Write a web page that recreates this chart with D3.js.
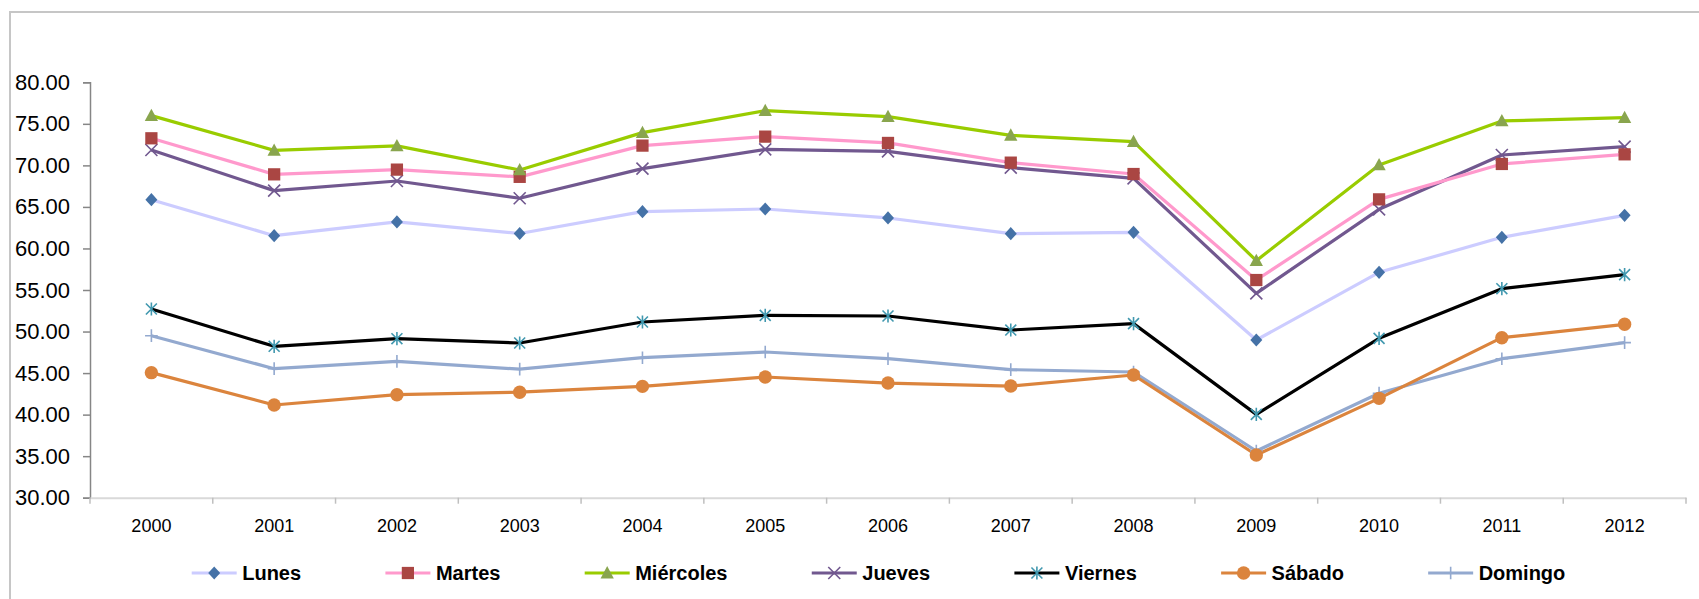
<!DOCTYPE html>
<html>
<head>
<meta charset="utf-8">
<script src="https://cdn.jsdelivr.net/npm/d3@7"></script>
<style>
  html, body { margin: 0; padding: 0; background: #fff; }
  svg { display: block; font-family: "Liberation Sans", Arial, sans-serif; }
</style>
</head>
<body>
<svg id="chart" width="1699" height="599"></svg>
<script>
// ---- data ----
const years = ["2000","2001","2002","2003","2004","2005","2006","2007","2008","2009","2010","2011","2012"];
const yTicks = [30, 35, 40, 45, 50, 55, 60, 65, 70, 75, 80];
const seriesNames = ["Lunes","Martes","Miércoles","Jueves","Viernes","Sábado","Domingo"];
const lunes     = [65.87, 61.54, 63.19, 61.80, 64.43, 64.75, 63.67, 61.78, 61.94, 48.98, 57.13, 61.34, 63.99];
const martes    = [73.26, 68.92, 69.49, 68.62, 72.38, 73.46, 72.70, 70.33, 68.96, 56.20, 65.91, 70.17, 71.33];
const miercoles = [75.99, 71.81, 72.34, 69.45, 73.94, 76.59, 75.87, 73.62, 72.86, 58.53, 70.05, 75.35, 75.75];
const jueves    = [71.85, 66.96, 68.12, 66.04, 69.61, 71.93, 71.69, 69.73, 68.44, 54.60, 64.71, 71.25, 72.26];
const viernes   = [52.71, 48.22, 49.14, 48.62, 51.15, 51.95, 51.87, 50.18, 50.95, 40.03, 49.18, 55.16, 56.85];
const sabado    = [45.05, 41.16, 42.40, 42.70, 43.40, 44.53, 43.80, 43.44, 44.77, 35.14, 41.96, 49.26, 50.87];
const domingo   = [49.50, 45.53, 46.41, 45.47, 46.85, 47.54, 46.73, 45.41, 45.13, 35.62, 42.58, 46.73, 48.66];
const seriesValues = [lunes, martes, miercoles, jueves, viernes, sabado, domingo];

// ---- styles ----
const lineColors   = ["#CCCCFF", "#FF99CC", "#99CC00", "#71588F", "#000000", "#DB843D", "#93A9CF"];
const markerColors = ["#4572A7", "#AA4643", "#89A54E", "#71588F", "#4198AF", "#DB843D", "#93A9CF"];

const diamondSym = { draw(ctx, size) { const r = Math.sqrt(size) / 2; ctx.moveTo(0, -r * 1.1); ctx.lineTo(r, 0); ctx.lineTo(0, r * 1.1); ctx.lineTo(-r, 0); ctx.closePath(); } };
const squareSym = { draw(ctx, size) { const r = Math.sqrt(size) / 2; ctx.rect(-r, -r, 2 * r, 2 * r); } };
const triSym = { draw(ctx, size) { const r = Math.sqrt(size) / 2; ctx.moveTo(0, -r * 1.1); ctx.lineTo(r * 1.05, r * 0.85); ctx.lineTo(-r * 1.05, r * 0.85); ctx.closePath(); } };
const xSym = { draw(ctx, size) { const r = Math.sqrt(size) / 2; ctx.moveTo(-r, -r); ctx.lineTo(r, r); ctx.moveTo(r, -r); ctx.lineTo(-r, r); } };
const starSym = { draw(ctx, size) { const r = Math.sqrt(size) / 2; ctx.moveTo(-r, -r); ctx.lineTo(r, r); ctx.moveTo(r, -r); ctx.lineTo(-r, r); ctx.moveTo(0, -r * 1.2); ctx.lineTo(0, r * 1.2); } };
const plusSym = { draw(ctx, size) { const r = Math.sqrt(size) / 2; ctx.moveTo(-r, 0); ctx.lineTo(r, 0); ctx.moveTo(0, -r); ctx.lineTo(0, r); } };
const circleSym = { draw(ctx, size) { const r = Math.sqrt(size) / 2; ctx.moveTo(r, 0); ctx.arc(0, 0, r, 0, 2 * Math.PI); } };

const markers = [
  { type: diamondSym, size: 144, fill: true },
  { type: squareSym,  size: 150, fill: true },
  { type: triSym,     size: 160, fill: true },
  { type: xSym,       size: 144, fill: false },
  { type: starSym,    size: 120, fill: false },
  { type: circleSym,  size: 180, fill: true },
  { type: plusSym,    size: 160, fill: false }
];

const svg = d3.select("#chart");

// outer chart border
svg.append("rect")
  .attr("x", 10).attr("y", 12).attr("width", 1720).attr("height", 620)
  .attr("fill", "none").attr("stroke", "#C6C6C6").attr("stroke-width", 2);

const plotLeft = 90, plotRight = 1686, plotTop = 82.3, plotBottom = 497.7;

const x = d3.scaleBand().domain(years).range([plotLeft, plotRight]).padding(0);
const y = d3.scaleLinear().domain([30, 80]).range([plotBottom, plotTop]);

// y axis
const yAxis = svg.append("g")
  .attr("transform", `translate(${plotLeft},0)`)
  .call(d3.axisLeft(y).tickValues(yTicks).tickFormat(d3.format(".2f")).tickSize(7).tickPadding(13));
yAxis.select(".domain").attr("stroke", "#868686").attr("stroke-width", 1.5);
yAxis.selectAll(".tick line").attr("stroke", "#868686").attr("stroke-width", 1.5);
yAxis.selectAll(".tick text").attr("font-size", 22).attr("fill", "#000")
  .attr("font-family", "'Liberation Sans', Arial, sans-serif");

// x axis
const xAxis = svg.append("g")
  .attr("transform", `translate(0,${plotBottom})`)
  .call(d3.axisBottom(x).tickSize(0).tickPadding(22));
xAxis.select(".domain").attr("stroke", "#D9D9D9").attr("stroke-width", 2);
xAxis.selectAll(".tick text").attr("font-size", 18).attr("fill", "#000")
  .attr("font-family", "'Liberation Sans', Arial, sans-serif");
// category boundary ticks
const boundaries = years.map(d => x(d)).concat([x.range()[1]]);
svg.append("g").selectAll("line").data(boundaries).join("line")
  .attr("x1", d => d).attr("x2", d => d)
  .attr("y1", plotBottom).attr("y2", plotBottom + 6)
  .attr("stroke", "#BFBFBF").attr("stroke-width", 1.5);

// lines
const lineGen = d3.line()
  .x((d, i) => x(years[i]) + x.bandwidth() / 2)
  .y(d => y(d));

const drawOrder = [6, 5, 4, 0, 3, 1, 2];
drawOrder.forEach(si => {
  svg.append("path")
    .datum(seriesValues[si])
    .attr("d", lineGen)
    .attr("fill", "none")
    .attr("stroke", lineColors[si])
    .attr("stroke-width", 3.2)
    .attr("stroke-linejoin", "round");
});
drawOrder.forEach(si => {
  const m = markers[si];
  const sym = d3.symbol().type(m.type).size(m.size);
  svg.append("g").selectAll("path")
    .data(seriesValues[si]).join("path")
    .attr("transform", (d, i) => `translate(${x(years[i]) + x.bandwidth() / 2},${y(d)})`)
    .attr("d", sym)
    .attr("fill", m.fill ? markerColors[si] : "none")
    .attr("stroke", markerColors[si])
    .attr("stroke-width", m.fill ? 0 : 1.6);
});

// legend
const legend = svg.append("g");
let lx = 191.7;
const ly = 573;
seriesNames.forEach((name, si) => {
  const g = legend.append("g").attr("transform", `translate(${lx},${ly})`);
  g.append("line").attr("x1", 0).attr("x2", 45).attr("y1", 0).attr("y2", 0)
    .attr("stroke", lineColors[si]).attr("stroke-width", 3.2);
  const m = markers[si];
  g.append("path")
    .attr("transform", "translate(22.5,0)")
    .attr("d", d3.symbol().type(m.type).size(m.size)())
    .attr("fill", m.fill ? markerColors[si] : "none")
    .attr("stroke", markerColors[si])
    .attr("stroke-width", m.fill ? 0 : 1.6);
  const t = g.append("text")
    .attr("x", 50.5).attr("y", 0).attr("dy", "0.36em")
    .attr("font-size", 20).attr("font-weight", "bold").attr("fill", "#000")
    .text(name);
  lx += 50.5 + t.node().getComputedTextLength() + 84.3;
});
</script>
</body>
</html>
